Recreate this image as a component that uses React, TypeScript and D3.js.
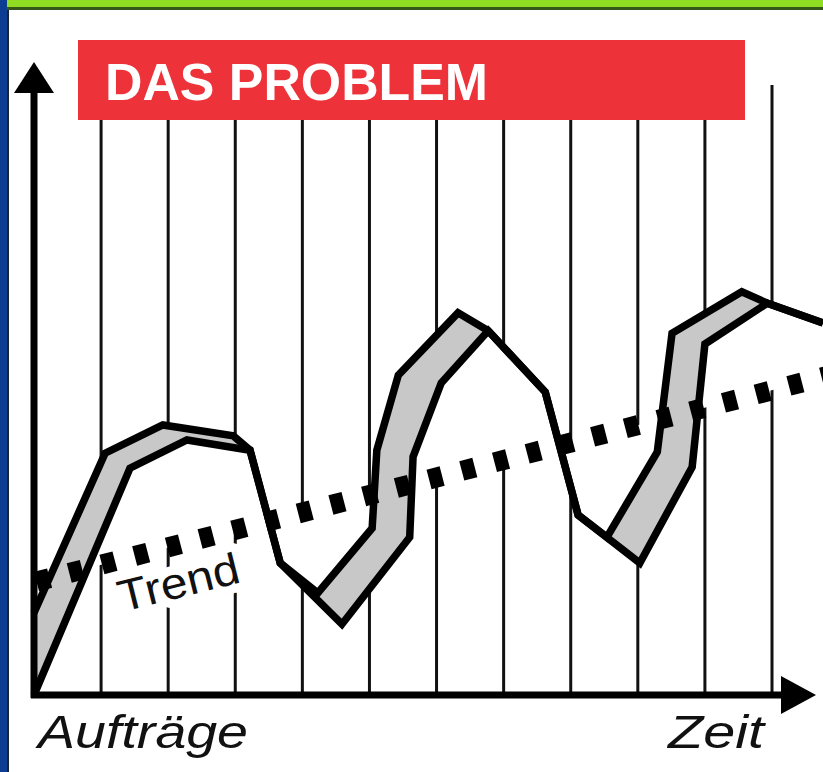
import React, { useRef, useEffect } from 'react';
import * as d3 from 'd3';

interface Pt {
  t: number;
  v: number;
}

const title = 'DAS PROBLEM';
const yLabel = 'Aufträge';
const xLabel = 'Zeit';
const trendLabel = 'Trend';

// Zeitschritte = senkrechte Linien
const timeSteps = [1, 2, 3, 4, 5, 6, 7, 8, 9, 10, 11];

// obere (hintere) Kante des Bandes
const upperEdge: Pt[] = [
  { t: 0, v: 13.7 }, { t: 1.06, v: 40.3 }, { t: 1.92, v: 45 }, { t: 2.97, v: 43.2 },
  { t: 3.22, v: 40.8 }, { t: 3.67, v: 22 }, { t: 4.23, v: 17 }, { t: 5.04, v: 27.8 },
  { t: 5.11, v: 40.8 }, { t: 5.43, v: 53.3 }, { t: 6.32, v: 63.7 }, { t: 6.77, v: 60.7 },
  { t: 7.62, v: 50.5 }, { t: 8.11, v: 30 }, { t: 8.54, v: 26.3 }, { t: 9.29, v: 40.5 },
  { t: 9.51, v: 60.3 }, { t: 10.55, v: 67.2 }, { t: 10.93, v: 65.3 }, { t: 11.76, v: 62 }
];

// untere (vordere) Kante des Bandes
const lowerEdge: Pt[] = [
  { t: 0, v: 0 }, { t: 1.43, v: 37.8 }, { t: 2.28, v: 42.5 }, { t: 3.22, v: 40.8 },
  { t: 3.67, v: 22 }, { t: 4.59, v: 11.8 }, { t: 5.6, v: 26.3 }, { t: 5.65, v: 39.7 },
  { t: 6.07, v: 52 }, { t: 6.77, v: 60.7 }, { t: 7.62, v: 50.5 }, { t: 8.11, v: 30 },
  { t: 9.03, v: 22 }, { t: 9.81, v: 38 }, { t: 10.0, v: 58.5 }, { t: 10.93, v: 65.3 },
  { t: 11.76, v: 62 }
];

const trendLine: Pt[] = [{ t: 0, v: 18.8 }, { t: 12, v: 53.7 }];

const App = () => {
  const svgRef = useRef<SVGSVGElement | null>(null);

  useEffect(() => {
    const width = 823;
    const height = 772;
    const font = "'Liberation Sans', Arial, sans-serif";

    const x = d3.scaleLinear().domain([0, 11]).range([34, 772]);
    const y = d3.scaleLinear().domain([0, 100]).range([695, 95]);

    const svg = d3.select(svgRef.current);
    svg.selectAll('*').remove();
    svg.attr('width', width).attr('height', height);

    svg.append('rect').attr('width', width).attr('height', height).attr('fill', '#fff');

    // Rahmen
    svg.append('rect').attr('x', 0).attr('y', 0).attr('width', width).attr('height', 7).attr('fill', '#8fdc22');
    svg.append('rect').attr('x', 0).attr('y', 7).attr('width', width).attr('height', 3).attr('fill', '#35581a');
    svg.append('rect').attr('x', 0).attr('y', 0).attr('width', 7).attr('height', height).attr('fill', '#0c3d93');
    svg.append('rect').attr('x', 7).attr('y', 10).attr('width', 2).attr('height', height - 10).attr('fill', '#1a2438');

    // senkrechte Linien
    svg.append('g')
      .selectAll('line')
      .data(timeSteps)
      .join('line')
      .attr('x1', d => x(d))
      .attr('x2', d => x(d))
      .attr('y1', d => (d === 11 ? 85 : 40))
      .attr('y2', y(0))
      .attr('stroke', '#111')
      .attr('stroke-width', 3);

    const line = d3.line<Pt>().x(d => x(d.t)).y(d => y(d.v));

    // weiss zwischen Kurve und Trend
    svg.append('path')
      .attr('d', line(lowerEdge.concat(trendLine.slice().reverse()))! + 'Z')
      .attr('fill', '#fff');

    // graues Band
    svg.append('path')
      .attr('d', line(upperEdge.concat(lowerEdge.slice().reverse()))! + 'Z')
      .attr('fill', '#c8c8c8');

    [upperEdge, lowerEdge].forEach(edge => {
      svg.append('path')
        .datum(edge)
        .attr('d', line)
        .attr('fill', 'none')
        .attr('stroke', '#000')
        .attr('stroke-width', 7.5)
        .attr('stroke-linejoin', 'miter');
    });

    // Trend-Beschriftung mit weissem Hof
    const label = svg.append('g').attr('transform', 'translate(122,612) rotate(-14)');
    [true, false].forEach(halo => {
      label.append('text')
        .attr('font-family', font)
        .attr('font-size', 44)
        .attr('textLength', 124)
        .attr('lengthAdjust', 'spacingAndGlyphs')
        .attr('fill', halo ? '#fff' : '#111')
        .attr('stroke', halo ? '#fff' : 'none')
        .attr('stroke-width', halo ? 18 : 0)
        .attr('stroke-linejoin', 'round')
        .text(trendLabel);
    });

    // Trendlinie
    svg.append('path')
      .datum(trendLine)
      .attr('d', line)
      .attr('fill', 'none')
      .attr('stroke', '#000')
      .attr('stroke-width', 20)
      .attr('stroke-dasharray', '13.5 20.3')
      .attr('stroke-dashoffset', 31.2);

    // Achsen
    svg.append('line')
      .attr('x1', x(0)).attr('x2', x(0))
      .attr('y1', y(0) + 3).attr('y2', 90)
      .attr('stroke', '#000').attr('stroke-width', 7);
    svg.append('path')
      .attr('d', `M${x(0)},62L${x(0) + 20},93L${x(0) - 20},93Z`)
      .attr('fill', '#000');
    svg.append('line')
      .attr('x1', x(0) - 3).attr('x2', 785)
      .attr('y1', y(0)).attr('y2', y(0))
      .attr('stroke', '#000').attr('stroke-width', 7);
    svg.append('path')
      .attr('d', `M816,${y(0)}L781,${y(0) - 19}L781,${y(0) + 19}Z`)
      .attr('fill', '#000');

    // Titel
    svg.append('rect')
      .attr('x', 78).attr('y', 40).attr('width', 667).attr('height', 80)
      .attr('fill', '#ee3239');
    svg.append('text')
      .attr('x', 105).attr('y', 100)
      .attr('font-family', font)
      .attr('font-weight', 'bold')
      .attr('font-size', 51)
      .attr('textLength', 383)
      .attr('lengthAdjust', 'spacingAndGlyphs')
      .attr('fill', '#fff')
      .text(title);

    svg.append('text')
      .attr('x', 38).attr('y', 748)
      .attr('font-family', font)
      .attr('font-style', 'italic')
      .attr('font-size', 46)
      .attr('textLength', 210)
      .attr('lengthAdjust', 'spacingAndGlyphs')
      .attr('fill', '#111')
      .text(yLabel);

    svg.append('text')
      .attr('x', 668).attr('y', 748)
      .attr('font-family', font)
      .attr('font-style', 'italic')
      .attr('font-size', 46)
      .attr('textLength', 96)
      .attr('lengthAdjust', 'spacingAndGlyphs')
      .attr('fill', '#111')
      .text(xLabel);
  }, []);

  return (
    <svg ref={svgRef} style={{ position: 'absolute', left: 0, top: 0, display: 'block' }}></svg>
  );
};

export default App;
